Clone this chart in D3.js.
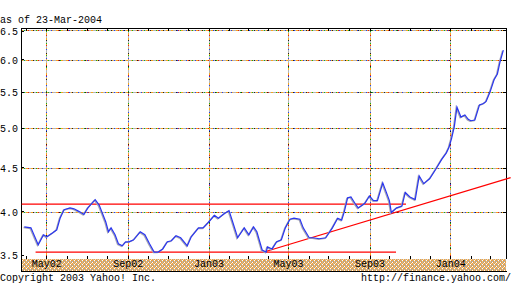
<!DOCTYPE html>
<html>
<head>
<meta charset="utf-8">
<script src="https://cdn.jsdelivr.net/npm/d3@7"></script>
<style>
  html, body { margin: 0; padding: 0; background: #fff; }
  svg { display: block; }
  text { font-family: "Liberation Mono", "DejaVu Sans Mono", monospace; font-size: 10px; fill: #000; }
</style>
</head>
<body>
<div id="chart"></div>
<script>
// weekly-ish closes
const dates = [
  '2002-03-29', '2002-04-08', '2002-04-19', '2002-04-27', '2002-05-02', '2002-05-11', '2002-05-17', '2002-05-22',
  '2002-05-28', '2002-06-06', '2002-06-12', '2002-06-20', '2002-06-27', '2002-07-03', '2002-07-14', '2002-07-20',
  '2002-07-25', '2002-07-30', '2002-08-03', '2002-08-07', '2002-08-13', '2002-08-18', '2002-08-24', '2002-08-29',
  '2002-09-03', '2002-09-10', '2002-09-20', '2002-09-27', '2002-10-04', '2002-10-11', '2002-10-17', '2002-10-24',
  '2002-10-31', '2002-11-06', '2002-11-13', '2002-11-20', '2002-11-30', '2002-12-06', '2002-12-17', '2002-12-24',
  '2002-12-31', '2003-01-10', '2003-01-16', '2003-01-25', '2003-02-01', '2003-02-07', '2003-02-14', '2003-02-24',
  '2003-03-03', '2003-03-10', '2003-03-15', '2003-03-23', '2003-03-29', '2003-03-31', '2003-04-07', '2003-04-14',
  '2003-04-21', '2003-04-27', '2003-05-04', '2003-05-10', '2003-05-19', '2003-05-24', '2003-06-02', '2003-06-08',
  '2003-06-17', '2003-06-27', '2003-07-07', '2003-07-15', '2003-07-21', '2003-07-25', '2003-07-30', '2003-08-04',
  '2003-08-10', '2003-08-15', '2003-08-25', '2003-09-01', '2003-09-07', '2003-09-13', '2003-09-21', '2003-09-27',
  '2003-10-01', '2003-10-04', '2003-10-12', '2003-10-20', '2003-10-25', '2003-11-01', '2003-11-09', '2003-11-15',
  '2003-11-22', '2003-12-01', '2003-12-10', '2003-12-19', '2003-12-26', '2003-12-30', '2004-01-03', '2004-01-07',
  '2004-01-11', '2004-01-17', '2004-01-23', '2004-01-28', '2004-02-01', '2004-02-07', '2004-02-14', '2004-02-20',
  '2004-02-24', '2004-03-01', '2004-03-07', '2004-03-12', '2004-03-16', '2004-03-21'
];
const closes = [
  3.84, 3.83, 3.66, 3.76, 3.74, 3.78, 3.81, 3.93,
  4.02, 4.04, 4.03, 4.00, 3.97, 4.04, 4.13, 4.07,
  3.98, 3.89, 3.79, 3.83, 3.76, 3.67, 3.65, 3.69,
  3.69, 3.71, 3.79, 3.76, 3.67, 3.59, 3.59, 3.62,
  3.69, 3.70, 3.75, 3.73, 3.65, 3.74, 3.83, 3.83,
  3.88, 3.96, 3.93, 3.98, 4.01, 3.88, 3.73, 3.83,
  3.76, 3.84, 3.79, 3.61, 3.59, 3.64, 3.62, 3.69,
  3.71, 3.83, 3.92, 3.93, 3.92, 3.83, 3.73, 3.73,
  3.72, 3.73, 3.83, 3.93, 3.91, 4.00, 4.15, 4.16,
  4.09, 4.04, 4.09, 4.17, 4.12, 4.12, 4.32, 4.20,
  4.12, 3.99, 4.04, 4.06, 4.21, 4.16, 4.13, 4.40,
  4.31, 4.37, 4.48, 4.60, 4.68, 4.75, 4.87, 5.02,
  5.29, 5.15, 5.18, 5.12, 5.10, 5.11, 5.32, 5.34,
  5.37, 5.51, 5.69, 5.78, 5.97, 6.16
];

// drawn lines: [date, price]
const upperLine = [['2002-03-25', 4.08], ['2003-10-26', 4.08]];
const lowerLine = [['2002-04-15', 3.59], ['2003-10-11', 3.59]];
const trendLine = [['2003-03-27', 3.593], ['2004-04-01', 4.38]];

const yTicks = [3.5, 4.0, 4.5, 5.0, 5.5, 6.0, 6.5];
const dateRange = ['2002-03-24', '2004-03-25'];
const priceRange = [3.524, 6.535];
const asOf = 'as of 23-Mar-2004';
const copyright = 'Copyright 2003 Yahoo! Inc.';
const siteUrl = 'http://finance.yahoo.com/';

const width = 511;
const height = 287;
const plotLeft = 21;
const plotRight = 506;
const plotTop = 28;
const plotBottom = 259;
const bandBottom = 271;

const parse = d3.timeParse('%Y-%m-%d');

const x = d3.scaleTime()
  .domain(dateRange.map(parse))
  .range([plotLeft, plotRight]);

const y = d3.scaleLog()
  .domain(priceRange)
  .range([plotBottom, plotTop]);

const svg = d3.select('#chart')
  .append('svg')
  .attr('width', width)
  .attr('height', height);

// speckled grid, the gif dither look
const speckle = [
  { color: '#b4b4b4', dash: null, offset: 0 },
  { color: '#f7a51e', dash: '2 3', offset: 0 },
  { color: '#e31b1b', dash: '1 9', offset: 3 },
  { color: '#2340f0', dash: '1 8', offset: 6 },
  { color: '#14b014', dash: '1 11', offset: 9 },
  { color: '#222222', dash: '1 12', offset: 1 },
];

const defs = svg.append('defs');
const band = defs.append('pattern')
  .attr('id', 'band')
  .attr('patternUnits', 'userSpaceOnUse')
  .attr('width', 4)
  .attr('height', 4);
const bandTile = [
  '#f2a23a', '#b2b2b2', '#ffffff', '#f2a23a',
  '#b2b2b2', '#f2a23a', '#f7c070', '#a8a8a8',
  '#ffffff', '#f2a23a', '#b2b2b2', '#f2a23a',
  '#f2a23a', '#c0c0c0', '#f2a23a', '#e8e0d0',
];
band.selectAll('rect')
  .data(bandTile)
  .enter()
  .append('rect')
  .attr('x', (d, i) => i % 4)
  .attr('y', (d, i) => Math.floor(i / 4))
  .attr('width', 1)
  .attr('height', 1)
  .attr('fill', d => d);

const grid = svg.append('g').attr('class', 'grid');

function speckledLine(x1, y1, x2, y2) {
  speckle.forEach((s) => {
    grid.append('line')
      .attr('x1', x1)
      .attr('y1', y1)
      .attr('x2', x2)
      .attr('y2', y2)
      .attr('stroke', s.color)
      .attr('stroke-width', 1)
      .attr('stroke-dasharray', s.dash)
      .attr('stroke-dashoffset', s.offset)
      .attr('shape-rendering', 'crispEdges');
  });
}

const gridValues = yTicks.filter(v => y(v) > plotTop + 2 && y(v) < plotBottom - 2);
gridValues.forEach((v) => {
  const gy = Math.round(y(v)) + 0.5;
  speckledLine(plotLeft, gy, plotRight, gy);
});

const majorDates = x.ticks(d3.timeMonth.every(4));
majorDates.forEach((d) => {
  const gx = Math.round(x(d)) + 0.5;
  speckledLine(gx, plotTop, gx, plotBottom);
});

// date band
svg.append('rect')
  .attr('x', plotLeft)
  .attr('y', plotBottom)
  .attr('width', plotRight - plotLeft)
  .attr('height', bandBottom - plotBottom)
  .attr('fill', 'url(#band)');

svg.append('g')
  .attr('class', 'date-labels')
  .attr('transform', `translate(0,${plotBottom})`)
  .call(d3.axisBottom(x)
    .tickValues(majorDates)
    .tickFormat(d3.timeFormat('%b%y'))
    .tickSize(0)
    .tickPadding(0))
  .call(g => g.select('.domain').remove())
  .call(g => g.selectAll('text')
    .attr('dy', null)
    .attr('y', 8)
    .style('font-family', '"Liberation Mono", monospace')
    .style('font-size', '10px'));

// monthly ticks, top and bottom
const months = x.ticks(d3.timeMonth.every(1));
svg.append('g')
  .attr('transform', `translate(0,${plotTop})`)
  .call(d3.axisBottom(x).tickValues(months).tickSize(3).tickFormat(''))
  .call(g => g.select('.domain').remove())
  .call(g => g.selectAll('line').attr('stroke', '#000').attr('shape-rendering', 'crispEdges'));

svg.append('g')
  .attr('transform', `translate(0,${plotBottom})`)
  .call(d3.axisTop(x).tickValues(months).tickSize(3).tickFormat(''))
  .call(g => g.select('.domain').remove())
  .call(g => g.selectAll('line').attr('stroke', '#000').attr('shape-rendering', 'crispEdges'));

// price labels on the left
svg.append('g')
  .attr('class', 'y-axis')
  .attr('transform', `translate(${plotLeft},0)`)
  .call(d3.axisLeft(y)
    .tickValues(yTicks)
    .tickFormat(d3.format('.1f'))
    .tickSize(-3)
    .tickPadding(3))
  .call(g => g.select('.domain').remove())
  .call(g => g.selectAll('.tick')
    .attr('transform', d => `translate(0,${Math.min(Math.max(y(d), plotTop + 3), plotBottom - 4)})`))
  .call(g => g.selectAll('.tick line').attr('stroke', '#000').attr('shape-rendering', 'crispEdges'))
  .call(g => g.selectAll('text')
    .attr('dy', '0.4em')
    .style('font-family', '"Liberation Mono", monospace')
    .style('font-size', '10px'));

svg.append('g')
  .attr('transform', `translate(${plotRight},0)`)
  .call(d3.axisRight(y).tickValues(gridValues).tickSize(-3).tickFormat(''))
  .call(g => g.select('.domain').remove())
  .call(g => g.selectAll('line').attr('stroke', '#000').attr('shape-rendering', 'crispEdges'));

// frame
const frame = svg.append('g')
  .attr('stroke', '#000')
  .attr('stroke-width', 1)
  .attr('shape-rendering', 'crispEdges');
frame.append('line').attr('x1', plotLeft).attr('x2', plotRight + 1).attr('y1', plotTop + 0.5).attr('y2', plotTop + 0.5);
frame.append('line').attr('x1', plotLeft + 0.5).attr('x2', plotLeft + 0.5).attr('y1', plotTop).attr('y2', bandBottom);
frame.append('line').attr('x1', plotRight + 0.5).attr('x2', plotRight + 0.5).attr('y1', plotTop).attr('y2', plotBottom);
frame.append('line').attr('x1', plotLeft).attr('x2', plotRight + 1).attr('y1', bandBottom + 0.5).attr('y2', bandBottom + 0.5);

// support / resistance lines
const segment = d3.line()
  .x(d => x(parse(d[0])))
  .y(d => y(d[1]));

[upperLine, lowerLine, trendLine].forEach((pts) => {
  svg.append('path')
    .datum(pts)
    .attr('d', segment)
    .attr('fill', 'none')
    .attr('stroke', '#ff0000')
    .attr('stroke-width', 1.2);
});

// price line, with the grey halo of the original
const series = dates.map((d, i) => ({ date: parse(d), close: closes[i] }));
const priceLine = d3.line()
  .x(d => x(d.date))
  .y(d => y(d.close));

svg.append('path')
  .datum(series)
  .attr('d', priceLine)
  .attr('fill', 'none')
  .attr('stroke', '#a8a8b4')
  .attr('stroke-width', 1.4)
  .attr('transform', 'translate(-0.8,0.6)');

svg.append('path')
  .datum(series)
  .attr('d', priceLine)
  .attr('fill', 'none')
  .attr('stroke', '#2a36f0')
  .attr('stroke-width', 1.2);

// texts
svg.append('text')
  .attr('x', 0)
  .attr('y', 23)
  .text(asOf);

svg.append('text')
  .attr('x', 0)
  .attr('y', 281)
  .text(copyright);

svg.append('text')
  .attr('x', width)
  .attr('y', 281)
  .attr('text-anchor', 'end')
  .text(siteUrl);
</script>
</body>
</html>
